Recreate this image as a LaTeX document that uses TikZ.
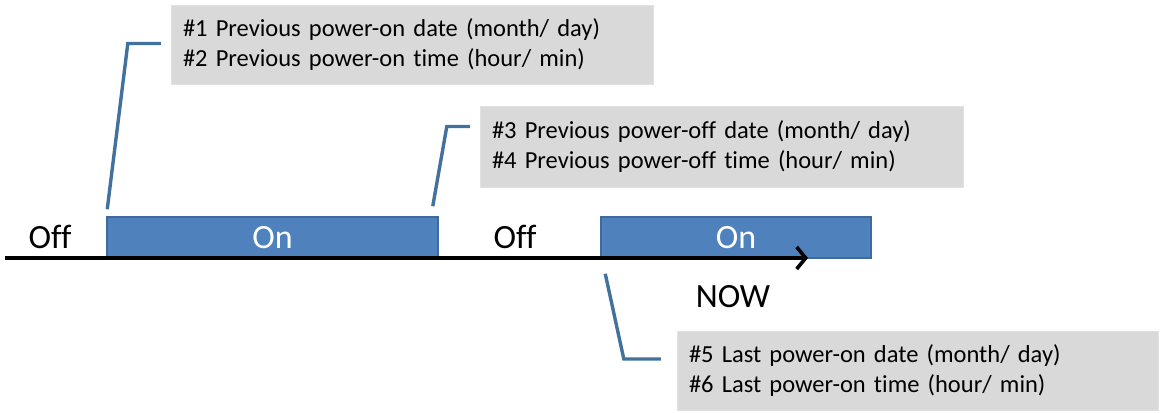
\documentclass[tikz,border=0pt]{standalone}
\usepackage{fontspec}
\setmainfont{Carlito}[RawFeature=-liga]
\usetikzlibrary{arrows.meta}
\definecolor{onblue}{HTML}{4F81BD}
\definecolor{onedge}{HTML}{3E6A9E}
\definecolor{leadblue}{HTML}{41719C}
\definecolor{notegray}{HTML}{D9D9D9}

\begin{document}
\begin{tikzpicture}[
    x=1pt,y=1pt,
    every node/.style={inner sep=0pt},
    onbox/.style={draw=onedge,line width=1.5pt,fill=onblue,text=white,
                  font=\fontsize{34}{40}\selectfont},
    state/.style={font=\fontsize{34}{40}\selectfont},
    note/.style={fill=notegray,draw=notegray!80!white,align=left,inner xsep=12pt,
                 font=\fontsize{24.5}{30}\selectfont},
    lead/.style={draw=leadblue,line width=3.4pt},
    arr/.style={-{Straight Barb[length=9pt,width=22pt]},line width=3.6pt}
]
\useasboundingbox (0,0) rectangle (1161,412);
% time line with the two on-periods
\node[onbox,minimum width=331pt,minimum height=41pt] (on1) at (272.5,174.5) {On};
\node[onbox,minimum width=270pt,minimum height=41pt] (on2) at (736,174.5) {On};
\coordinate (start) at (5,154);
\coordinate (tip) at (808,154);
\draw[arr] (start) -- (tip);
\node[state] (off1) at (50,175) {Off};
\node[state] (off2) at (515,175) {Off};
\node[state] (now) at (733,115) {NOW};
% callouts
\node[note,minimum width=482pt,minimum height=79pt,text width=458pt] (note1) at (412,367.5)
  {\#1 Previous power-on date (month/ day)\\\#2 Previous power-on time (hour/ min)};
\node[note,minimum width=483pt,minimum height=81pt,text width=459pt] (note2) at (721.5,265.5)
  {\#3 Previous power-off date (month/ day)\\\#4 Previous power-off time (hour/ min)};
\node[note,minimum width=481pt,minimum height=79pt,text width=457pt] (note3) at (917.5,41.5)
  {\#5 Last power-on date (month/ day)\\\#6 Last power-on time (hour/ min)};
\draw[lead] ([shift={(1pt,7pt)}]on1.north west) -- ([shift={(-43pt,1pt)}]note1.west)
  -- ([shift={(-10pt,1pt)}]note1.west);
\draw[lead] ([shift={(-6pt,10pt)}]on1.north east) -- ([shift={(-33pt,20pt)}]note2.west)
  -- ([shift={(-10pt,20pt)}]note2.west);
\draw[lead] ([shift={(5pt,-15pt)}]on2.south west) -- ([shift={(-53pt,11.5pt)}]note3.west)
  -- ([shift={(-16pt,11.5pt)}]note3.west);
\end{tikzpicture}
\end{document}
